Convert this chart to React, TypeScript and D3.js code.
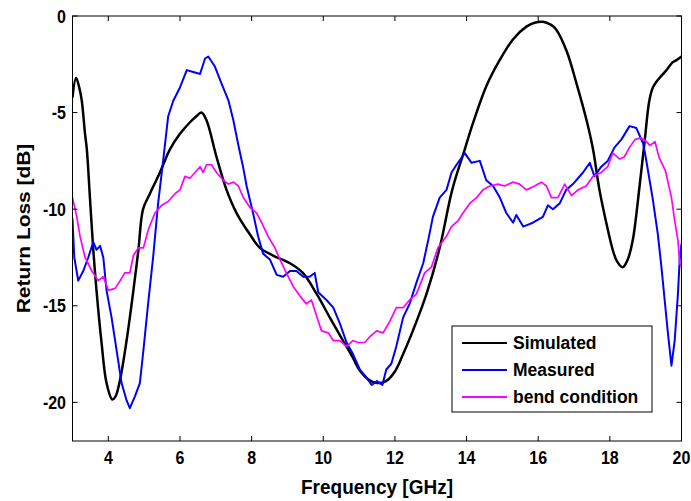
import React from "react";
import * as d3 from "d3";

const simF = [3.0, 3.1, 3.2, 3.26, 3.35, 3.4, 3.49, 3.58, 3.67, 3.81, 3.95, 4.11, 4.2, 4.32, 4.51, 4.7, 4.84, 4.97, 5.16, 5.44, 5.72, 6.0, 6.28, 6.45, 6.6, 6.74, 7.02, 7.3, 7.58, 7.95, 8.23, 8.6, 9.07, 9.43, 9.82, 10.18, 10.55, 10.83, 11.0, 11.25, 11.5, 11.75, 12.0, 12.23, 12.5, 12.88, 13.25, 13.6, 13.95, 14.17, 14.56, 14.92, 15.3, 15.67, 15.9, 16.13, 16.35, 16.5, 16.79, 17.07, 17.35, 17.53, 17.71, 17.9, 18.08, 18.2, 18.36, 18.5, 18.64, 18.83, 18.97, 19.1, 19.2, 19.3, 19.58, 19.75, 19.85, 20.0];
const simDb = [-4.2, -3.2, -3.8, -4.4, -6.1, -6.9, -9.5, -12.1, -14.2, -16.9, -19.0, -19.85, -19.7, -18.9, -16.8, -14.2, -12.1, -10.0, -9.2, -8.1, -6.9, -6.1, -5.5, -5.2, -5.0, -5.4, -7.3, -9.0, -10.2, -11.3, -12.0, -12.4, -12.8, -13.3, -14.4, -15.6, -16.8, -17.7, -18.3, -18.8, -19.0, -18.9, -18.4, -17.5, -16.3, -14.4, -12.0, -9.0, -6.9, -5.6, -3.6, -2.3, -1.2, -0.55, -0.35, -0.3, -0.45, -0.7, -1.8, -3.5, -5.4, -6.9, -9.0, -10.7, -12.1, -12.7, -13.0, -12.6, -11.6, -8.8, -6.5, -4.4, -3.7, -3.4, -2.8, -2.4, -2.3, -2.1];

const measF = [3.0, 3.05, 3.16, 3.3, 3.44, 3.58, 3.67, 3.77, 3.86, 3.95, 4.09, 4.23, 4.37, 4.51, 4.6, 4.74, 4.88, 4.98, 5.11, 5.25, 5.39, 5.53, 5.67, 5.81, 6.0, 6.19, 6.37, 6.56, 6.7, 6.79, 6.97, 7.16, 7.35, 7.49, 7.62, 7.76, 7.86, 8.04, 8.18, 8.32, 8.51, 8.7, 8.88, 9.07, 9.25, 9.44, 9.62, 9.76, 9.86, 10.09, 10.28, 10.46, 10.65, 10.83, 11.02, 11.2, 11.35, 11.5, 11.65, 11.76, 11.9, 12.04, 12.23, 12.41, 12.6, 12.79, 12.93, 13.06, 13.25, 13.44, 13.58, 13.72, 13.95, 14.14, 14.37, 14.55, 14.74, 14.93, 15.11, 15.3, 15.39, 15.58, 15.85, 16.13, 16.27, 16.41, 16.6, 16.78, 16.97, 17.25, 17.44, 17.57, 17.76, 17.94, 18.13, 18.32, 18.55, 18.74, 18.93, 19.0, 19.2, 19.34, 19.44, 19.53, 19.62, 19.72, 19.81, 19.9, 19.95, 20.0];
const measDb = [-10.5, -12.5, -13.7, -13.2, -12.5, -11.7, -12.1, -11.9, -12.5, -14.2, -15.6, -17.3, -19.0, -19.9, -20.3, -19.7, -19.0, -17.3, -14.9, -12.5, -9.7, -7.5, -5.2, -4.4, -3.7, -2.8, -2.9, -3.0, -2.2, -2.1, -2.6, -3.5, -4.35, -5.4, -6.6, -7.8, -8.8, -10.2, -11.4, -12.3, -12.6, -13.4, -13.5, -13.2, -13.2, -13.5, -13.5, -13.3, -14.3, -14.7, -15.1, -15.9, -16.9, -17.5, -18.3, -18.7, -19.1, -18.9, -19.1, -18.3, -18.0, -17.1, -15.6, -14.9, -13.8, -12.8, -11.6, -10.4, -9.4, -9.0, -8.1, -7.7, -7.1, -7.6, -7.5, -8.5, -8.8, -9.4, -10.2, -10.7, -10.3, -10.9, -10.7, -10.4, -9.8, -10.0, -9.7, -9.0, -8.7, -8.1, -7.6, -8.3, -7.8, -7.5, -6.8, -6.4, -5.7, -5.8, -6.6, -7.3, -9.5, -11.3, -13.0, -14.7, -16.4, -18.1, -16.8, -14.4, -12.6, -11.8];

const bendF = [3.0, 3.12, 3.21, 3.35, 3.54, 3.72, 3.86, 4.0, 4.19, 4.33, 4.46, 4.6, 4.7, 4.84, 4.98, 5.11, 5.3, 5.49, 5.67, 5.86, 6.0, 6.14, 6.28, 6.42, 6.56, 6.65, 6.74, 6.88, 7.02, 7.21, 7.35, 7.49, 7.63, 7.77, 7.95, 8.14, 8.28, 8.46, 8.65, 8.79, 8.97, 9.16, 9.35, 9.53, 9.67, 9.81, 9.95, 10.14, 10.28, 10.46, 10.65, 10.83, 10.97, 11.16, 11.3, 11.49, 11.67, 11.86, 12.04, 12.23, 12.41, 12.6, 12.83, 13.02, 13.2, 13.44, 13.58, 13.76, 13.9, 14.09, 14.28, 14.46, 14.65, 14.88, 15.06, 15.3, 15.48, 15.67, 15.9, 16.09, 16.23, 16.37, 16.55, 16.74, 16.93, 17.11, 17.34, 17.53, 17.76, 17.94, 18.08, 18.27, 18.4, 18.55, 18.7, 18.86, 19.02, 19.12, 19.26, 19.37, 19.55, 19.72, 19.81, 19.9, 19.95, 20.0];
const bendDb = [-9.4, -10.4, -11.4, -12.5, -13.2, -13.7, -13.5, -14.2, -14.1, -13.7, -13.3, -13.3, -12.4, -12.0, -12.0, -11.1, -10.2, -9.8, -9.6, -9.2, -9.0, -8.3, -8.4, -8.1, -7.8, -8.1, -7.7, -7.7, -8.1, -8.5, -8.7, -8.6, -8.8, -9.4, -9.9, -10.2, -10.7, -11.4, -12.0, -12.6, -13.3, -14.0, -14.5, -14.9, -14.7, -15.5, -16.3, -16.4, -16.8, -16.8, -17.1, -16.8, -16.9, -16.9, -16.6, -16.3, -16.4, -15.8, -15.1, -15.1, -14.7, -14.4, -13.3, -13.0, -12.0, -11.4, -10.9, -10.6, -10.2, -9.7, -9.4, -9.0, -8.8, -8.7, -8.8, -8.6, -8.7, -9.0, -8.8, -8.6, -8.8, -9.4, -9.4, -8.7, -9.3, -9.0, -8.8, -8.3, -8.1, -7.8, -7.1, -7.4, -7.3, -6.8, -6.4, -6.3, -6.5, -6.7, -6.5, -7.3, -8.0, -9.4, -10.6, -11.6, -12.8, -13.0];

const seriesNames = ["Simulated", "Measured", "bend condition"];
const seriesColors = ["#000000", "#0000ff", "#ff00ff"];
const seriesWidths = [2.5, 2, 1.7];
const xTicks = [4, 6, 8, 10, 12, 14, 16, 18, 20];
const yTicks = [0, -5, -10, -15, -20];

const W = 691, H = 501;
const L = 72.5, R = 681.5, T = 16, B = 441;
const FONT = "'Liberation Sans', Arial, Helvetica, sans-serif";
const SY = 1.1;

export default function App() {
  const x = d3.scaleLinear().domain([3, 20]).range([L, R]);
  const y = d3.scaleLinear().domain([-22, 0]).range([B, T]);
  const smooth = d3.line<[number, number]>().x(d => x(d[0])).y(d => y(d[1])).curve(d3.curveCatmullRom.alpha(0.5));
  const linear = d3.line<[number, number]>().x(d => x(d[0])).y(d => y(d[1]));
  const data: [number, number][][] = [
    simF.map((f, i) => [f, simDb[i]]),
    measF.map((f, i) => [f, measDb[i]]),
    bendF.map((f, i) => [f, bendDb[i]]),
  ];
  const gens = [smooth, linear, linear];
  const legX = 452, legY = 326, legW = 200, legH = 86;
  const rowY = [343, 370, 397];
  return (
    <svg width={W} height={H} style={{ position: "absolute", left: 0, top: 0, background: "#fff" }} fontFamily={FONT}>
      <rect x={0} y={0} width={W} height={H} fill="#fff" />
      <defs>
        <clipPath id="plotclip">
          <rect x={L} y={T} width={R - L} height={B - T} />
        </clipPath>
      </defs>
      <g clipPath="url(#plotclip)" fill="none" strokeLinejoin="round" strokeLinecap="round">
        {data.map((d, i) => (
          <path key={i} d={gens[i](d) || ""} stroke={seriesColors[i]} strokeWidth={seriesWidths[i]} />
        ))}
      </g>
      <rect x={L} y={T} width={R - L} height={B - T} fill="none" stroke="#000" strokeWidth={1} />
      {xTicks.map(t => (
        <g key={"x" + t}>
          <line x1={x(t)} x2={x(t)} y1={B} y2={B - 5} stroke="#000" />
          <line x1={x(t)} x2={x(t)} y1={T} y2={T + 5} stroke="#000" />
          <text transform={`translate(${x(t)},464) scale(1,${SY})`} textAnchor="middle" fontSize={16} fontWeight="bold">{t}</text>
        </g>
      ))}
      {yTicks.map(t => (
        <g key={"y" + t}>
          <line x1={L} x2={L + 5} y1={y(t)} y2={y(t)} stroke="#000" />
          <line x1={R} x2={R - 5} y1={y(t)} y2={y(t)} stroke="#000" />
          <text transform={`translate(66,${y(t) + 6.5}) scale(1,${SY})`} textAnchor="end" fontSize={16} fontWeight="bold">{t}</text>
        </g>
      ))}
      <text transform={`translate(${(L + R) / 2},494) scale(1,${SY})`} textAnchor="middle" fontSize={19} fontWeight="bold">Frequency [GHz]</text>
      <text transform={`translate(29.5,${(T + B) / 2}) rotate(-90) scale(${SY},1)`} textAnchor="middle" fontSize={19} fontWeight="bold">Return Loss [dB]</text>
      <rect x={legX} y={legY} width={legW} height={legH} fill="#fff" stroke="#000" strokeWidth={1} />
      {seriesNames.map((n, i) => (
        <g key={n}>
          <line x1={462} x2={507} y1={rowY[i]} y2={rowY[i]} stroke={seriesColors[i]} strokeWidth={2} />
          <text transform={`translate(513,${rowY[i] + 6}) scale(1,${SY})`} fontSize={17.5} fontWeight="bold">{n}</text>
        </g>
      ))}
    </svg>
  );
}
